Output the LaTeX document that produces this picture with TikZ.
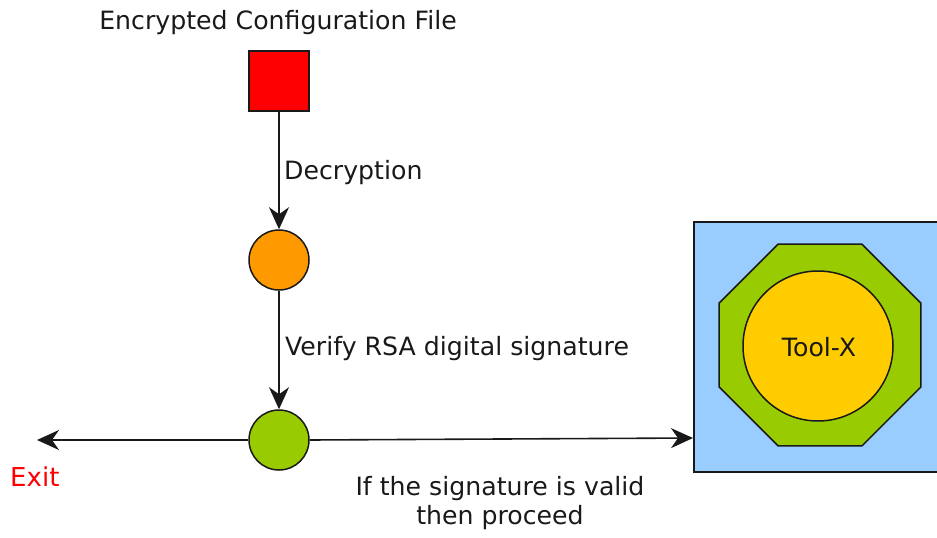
\documentclass[tikz,border=0pt]{standalone}
\usepackage{fontspec}
\setmainfont{DejaVu Sans}
\usetikzlibrary{arrows.meta,shapes.geometric}
\definecolor{boxred}{HTML}{FF0000}
\definecolor{stepor}{HTML}{FF9900}
\definecolor{stepgr}{HTML}{99CC00}
\definecolor{toolbg}{HTML}{99CCFF}
\definecolor{toolyl}{HTML}{FFCC00}
\tikzset{
  x=1pt, y=-1pt,
  every node/.style={font=\fontsize{25.2}{28.6}\selectfont, text=black!90},
  outl/.style={draw=black!90, line width=1.5pt},
  stepdot/.style={outl, circle, minimum size=60pt, inner sep=0pt},
  lbl/.style={inner sep=0pt, anchor=base west},
  flow/.style={line width=1.6pt, draw=black!90,
    -{Stealth[length=22pt, width=20pt, inset=7pt]}},
}
\begin{document}
\begin{tikzpicture}
\useasboundingbox (0,0) rectangle (937,538);

% source file
\node[outl, fill=boxred, minimum size=60pt, inner sep=0pt] (file) at (279,81) {};
\node[inner sep=0pt, anchor=base] (ftitle) at (278,29) {Encrypted Configuration File};

% processing steps
\node[stepdot, fill=stepor] (dec) at (279,260) {};
\node[stepdot, fill=stepgr] (ver) at (279,440) {};

% tool container
\node[outl, fill=toolbg, minimum width=250pt, minimum height=250pt, inner sep=0pt,
      anchor=north west] (tool) at (693,221) {};
\node[outl, fill=stepgr, regular polygon, regular polygon sides=8,
      minimum size=218.6pt, inner sep=0pt] (oct) at (820,345) {};
\node[outl, fill=toolyl, circle, minimum size=150pt, inner sep=0pt] (core) at (818,346) {};
\node[inner sep=0pt] (toolx) at (819,347) {Tool-X};

% connectors
\coordinate (exitpt) at (37,440);
\coordinate (toolin) at (693,438);
\draw[flow] (file) -- (dec);
\draw[flow] (dec) -- (ver);
\draw[flow] (ver) -- (exitpt);
\draw[flow] (ver.east) -- (toolin);

% labels
\node[lbl] (ldec) at (284,179.3) {Decryption};
\node[lbl] (lver) at (285,355.7) {Verify RSA digital signature};
\node[lbl, text=boxred, font=\fontsize{26}{30}\selectfont] (lexit) at (10,486) {Exit};
\node[inner sep=0pt, anchor=base, align=center] (lok) at (500,524.3)
  {If the signature is valid\\then proceed};
\end{tikzpicture}
\end{document}
